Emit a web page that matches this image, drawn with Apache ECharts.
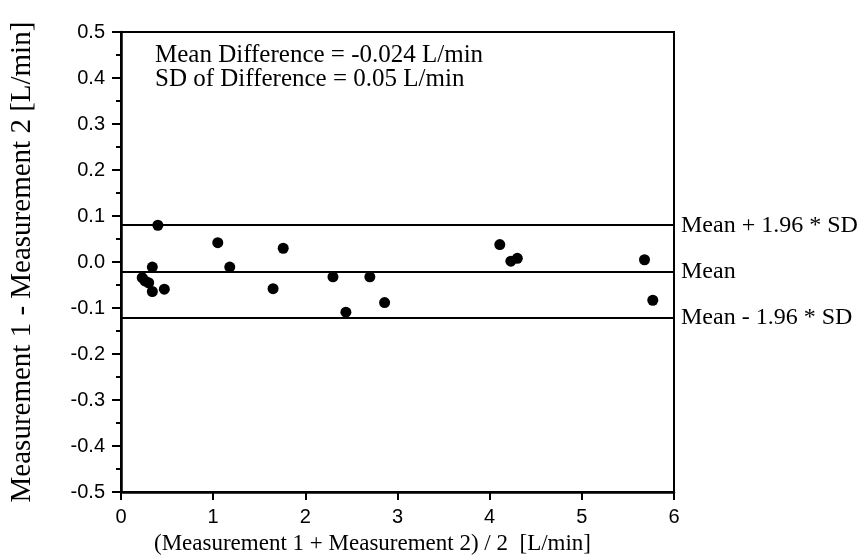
<!DOCTYPE html>
<html>
<head>
<meta charset="utf-8">
<script src="https://cdn.jsdelivr.net/npm/echarts@6/dist/echarts.min.js"></script>
<style>html,body{margin:0;padding:0;background:#fff;}#c{width:857px;height:560px;}</style>
</head>
<body>
<div id="c"></div>
<script>
// Bland-Altman data: x = mean of measurements, y = difference
const avgValues = [0.23, 0.26, 0.30, 0.34, 0.34, 0.40, 0.47, 1.05, 1.18, 1.65, 1.76, 2.30, 2.44, 2.70, 2.86, 4.11, 4.23, 4.30, 5.68, 5.77];
const diffValues = [-0.034, -0.041, -0.045, -0.011, -0.064, 0.080, -0.059, 0.042, -0.011, -0.058, 0.030, -0.032, -0.109, -0.032, -0.088, 0.038, 0.002, 0.008, 0.005, -0.083];
const refLineValues = [0.080, -0.019, -0.116];
const refLineLabels = ['Mean + 1.96 * SD', 'Mean', 'Mean - 1.96 * SD'];
const annotationLines = ['Mean Difference = -0.024 L/min', 'SD of Difference = 0.05 L/min'];
const xTitle = '(Measurement 1 + Measurement 2) / 2  [L/min]';
const yTitle = 'Measurement 1 - Measurement 2 [L/min]';

const serif = '"Liberation Serif", "Times New Roman", serif';
const sans = '"Liberation Sans", Arial, sans-serif';

const chart = echarts.init(document.getElementById('c'), null, {renderer: 'canvas'});
chart.setOption({
  animation: false,
  backgroundColor: '#fff',
  title: {
    text: annotationLines.join('\n'),
    left: 150, top: 38,
    textStyle: {fontFamily: serif, fontSize: 25, fontWeight: 'normal', color: '#000', lineHeight: 24}
  },
  grid: {left: 112, top: 32, right: 183, bottom: 59, show: true, borderColor: '#000', borderWidth: 2, backgroundColor: 'transparent'},
  xAxis: {
    type: 'value', min: 0, max: 6, interval: 1,
    name: xTitle, nameLocation: 'middle', nameGap: 34,
    nameTextStyle: {fontFamily: serif, fontSize: 23, color: '#000', padding: [0, 50, 0, 0]},
    axisLine: {show: true, onZero: false, lineStyle: {color: '#000', width: 2.5}},
    axisTick: {show: true, length: 8, lineStyle: {color: '#000', width: 2}},
    axisLabel: {fontFamily: sans, fontSize: 20, color: '#000', margin: 15},
    splitLine: {show: false}
  },
  yAxis: {
    type: 'value', min: -0.5, max: 0.5, interval: 0.1,
    name: yTitle, nameLocation: 'middle', nameGap: 84,
    nameTextStyle: {fontFamily: serif, fontSize: 29, color: '#000'},
    axisLine: {show: true, onZero: false, lineStyle: {color: '#000', width: 2.5}},
    axisTick: {show: true, length: 9, lineStyle: {color: '#000', width: 2}},
    minorTick: {show: true, splitNumber: 2, length: 5, lineStyle: {color: '#000', width: 2}},
    axisLabel: {fontFamily: sans, fontSize: 20, color: '#000', margin: 16,
      formatter: v => (Math.round(v * 10) / 10).toFixed(1)},
    splitLine: {show: false}
  },
  series: [{
    type: 'scatter',
    symbol: 'circle', symbolSize: 11,
    itemStyle: {color: '#000', opacity: 1},
    data: avgValues.map((x, i) => [x, diffValues[i]]),
    markLine: {
      silent: true, symbol: ['none', 'none'],
      lineStyle: {color: '#000', width: 2, type: 'solid'},
      label: {show: true, position: 'end', distance: 7, fontFamily: serif, fontSize: 24, color: '#000',
        formatter: p => refLineLabels[p.dataIndex]},
      data: refLineValues.map(v => ({yAxis: v}))
    },
    z: 3
  }]
});
</script>
</body>
</html>
